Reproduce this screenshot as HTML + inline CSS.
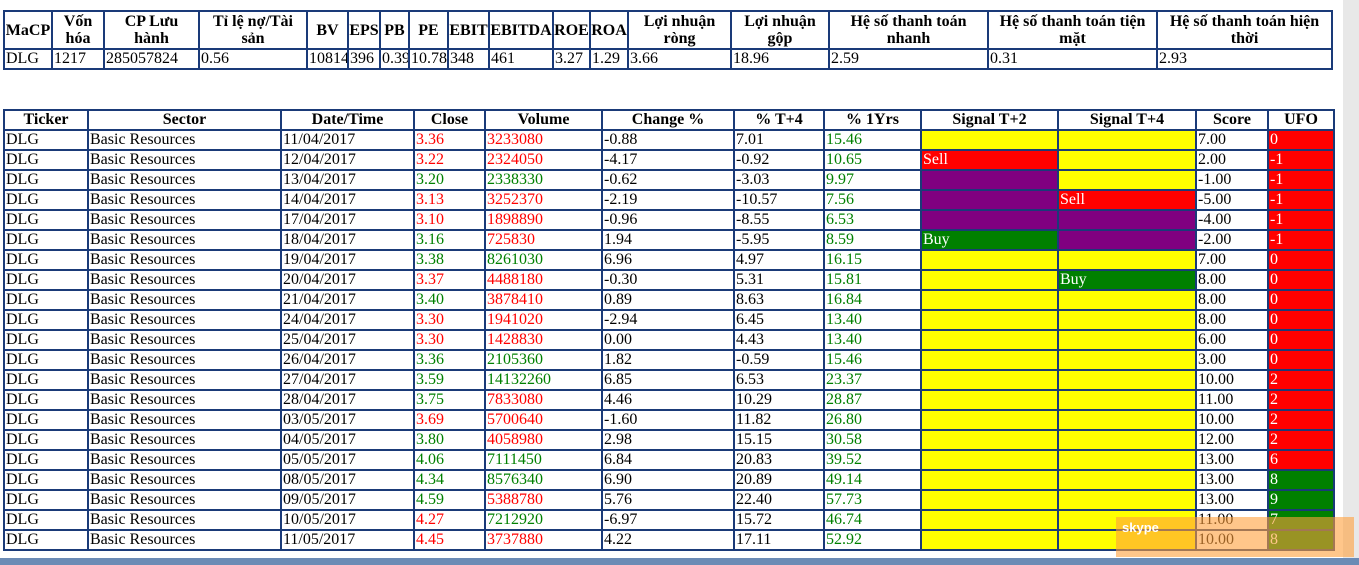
<!DOCTYPE html>
<html><head><meta charset="utf-8"><style>
body{margin:0;width:1359px;height:565px;background:#fff;overflow:hidden;position:relative;font-family:"Liberation Serif",serif;}
table{position:absolute;border-collapse:collapse;table-layout:fixed;font-size:16px;}
td,th{border:2px solid #1a3a78;padding:0 1px;white-space:nowrap;overflow:hidden;}
th{font-weight:bold;text-align:center;line-height:17px;}
#t1{left:3px;top:10px;width:1330px;}
#t1 th{height:36px;white-space:normal;padding:0 3px;}
#t1 td{height:18px;line-height:18px;}
#t2{left:3px;top:109px;width:1330px;}
#t2 th{height:18px;line-height:18px;}
#t2 td{height:18px;line-height:18px;}
.r{color:#ff0000}.g{color:#008000}
.Y{background:#ffff00}.R{background:#ff0000;color:#fff}.P{background:#800080;color:#fff}.G{background:#008000;color:#fff}
</style></head><body>
<table id="t1"><colgroup>
<col style="width:48px"><col style="width:52px"><col style="width:95px"><col style="width:108px"><col style="width:41px"><col style="width:32px"><col style="width:29px"><col style="width:39px"><col style="width:41px"><col style="width:64px"><col style="width:37px"><col style="width:38px"><col style="width:103px"><col style="width:98px"><col style="width:159px"><col style="width:169px"><col style="width:175px"></colgroup>
<tr><th style="padding:0">MaCP</th><th>Vốn hóa</th><th>CP Lưu hành</th><th>Tỉ lệ nợ/Tài sản</th><th>BV</th><th style="padding:0">EPS</th><th style="padding:0">PB</th><th>PE</th><th style="padding:0">EBIT</th><th style="padding:0">EBITDA</th><th style="padding:0">ROE</th><th style="padding:0">ROA</th><th>Lợi nhuận ròng</th><th>Lợi nhuận gộp</th><th style="padding:0 20px">Hệ số thanh toán nhanh</th><th>Hệ số thanh toán tiện mặt</th><th style="padding:0 2px">Hệ số thanh toán hiện thời</th></tr>
<tr><td>DLG</td><td>1217</td><td>285057824</td><td>0.56</td><td>10814</td><td>396</td><td>0.39</td><td>10.78</td><td>348</td><td>461</td><td>3.27</td><td>1.29</td><td>3.66</td><td>18.96</td><td>2.59</td><td>0.31</td><td>2.93</td></tr>
</table>
<table id="t2"><colgroup>
<col style="width:84px"><col style="width:193px"><col style="width:133px"><col style="width:71px"><col style="width:117px"><col style="width:132px"><col style="width:90px"><col style="width:97px"><col style="width:137px"><col style="width:138px"><col style="width:72px"><col style="width:66px"></colgroup>
<tr><th>Ticker</th><th>Sector</th><th>Date/Time</th><th>Close</th><th>Volume</th><th>Change %</th><th>% T+4</th><th>% 1Yrs</th><th>Signal T+2</th><th>Signal T+4</th><th>Score</th><th>UFO</th></tr>
<tr><td>DLG</td><td>Basic Resources</td><td>11/04/2017</td><td class="r">3.36</td><td class="r">3233080</td><td>-0.88</td><td>7.01</td><td class="g">15.46</td><td class="Y"></td><td class="Y"></td><td>7.00</td><td class="R">0</td></tr>
<tr><td>DLG</td><td>Basic Resources</td><td>12/04/2017</td><td class="r">3.22</td><td class="r">2324050</td><td>-4.17</td><td>-0.92</td><td class="g">10.65</td><td class="R">Sell</td><td class="Y"></td><td>2.00</td><td class="R">-1</td></tr>
<tr><td>DLG</td><td>Basic Resources</td><td>13/04/2017</td><td class="g">3.20</td><td class="g">2338330</td><td>-0.62</td><td>-3.03</td><td class="g">9.97</td><td class="P"></td><td class="Y"></td><td>-1.00</td><td class="R">-1</td></tr>
<tr><td>DLG</td><td>Basic Resources</td><td>14/04/2017</td><td class="r">3.13</td><td class="r">3252370</td><td>-2.19</td><td>-10.57</td><td class="g">7.56</td><td class="P"></td><td class="R">Sell</td><td>-5.00</td><td class="R">-1</td></tr>
<tr><td>DLG</td><td>Basic Resources</td><td>17/04/2017</td><td class="r">3.10</td><td class="r">1898890</td><td>-0.96</td><td>-8.55</td><td class="g">6.53</td><td class="P"></td><td class="P"></td><td>-4.00</td><td class="R">-1</td></tr>
<tr><td>DLG</td><td>Basic Resources</td><td>18/04/2017</td><td class="g">3.16</td><td class="r">725830</td><td>1.94</td><td>-5.95</td><td class="g">8.59</td><td class="G">Buy</td><td class="P"></td><td>-2.00</td><td class="R">-1</td></tr>
<tr><td>DLG</td><td>Basic Resources</td><td>19/04/2017</td><td class="g">3.38</td><td class="g">8261030</td><td>6.96</td><td>4.97</td><td class="g">16.15</td><td class="Y"></td><td class="Y"></td><td>7.00</td><td class="R">0</td></tr>
<tr><td>DLG</td><td>Basic Resources</td><td>20/04/2017</td><td class="r">3.37</td><td class="r">4488180</td><td>-0.30</td><td>5.31</td><td class="g">15.81</td><td class="Y"></td><td class="G">Buy</td><td>8.00</td><td class="R">0</td></tr>
<tr><td>DLG</td><td>Basic Resources</td><td>21/04/2017</td><td class="g">3.40</td><td class="r">3878410</td><td>0.89</td><td>8.63</td><td class="g">16.84</td><td class="Y"></td><td class="Y"></td><td>8.00</td><td class="R">0</td></tr>
<tr><td>DLG</td><td>Basic Resources</td><td>24/04/2017</td><td class="r">3.30</td><td class="r">1941020</td><td>-2.94</td><td>6.45</td><td class="g">13.40</td><td class="Y"></td><td class="Y"></td><td>8.00</td><td class="R">0</td></tr>
<tr><td>DLG</td><td>Basic Resources</td><td>25/04/2017</td><td class="r">3.30</td><td class="r">1428830</td><td>0.00</td><td>4.43</td><td class="g">13.40</td><td class="Y"></td><td class="Y"></td><td>6.00</td><td class="R">0</td></tr>
<tr><td>DLG</td><td>Basic Resources</td><td>26/04/2017</td><td class="g">3.36</td><td class="g">2105360</td><td>1.82</td><td>-0.59</td><td class="g">15.46</td><td class="Y"></td><td class="Y"></td><td>3.00</td><td class="R">0</td></tr>
<tr><td>DLG</td><td>Basic Resources</td><td>27/04/2017</td><td class="g">3.59</td><td class="g">14132260</td><td>6.85</td><td>6.53</td><td class="g">23.37</td><td class="Y"></td><td class="Y"></td><td>10.00</td><td class="R">2</td></tr>
<tr><td>DLG</td><td>Basic Resources</td><td>28/04/2017</td><td class="g">3.75</td><td class="r">7833080</td><td>4.46</td><td>10.29</td><td class="g">28.87</td><td class="Y"></td><td class="Y"></td><td>11.00</td><td class="R">2</td></tr>
<tr><td>DLG</td><td>Basic Resources</td><td>03/05/2017</td><td class="r">3.69</td><td class="r">5700640</td><td>-1.60</td><td>11.82</td><td class="g">26.80</td><td class="Y"></td><td class="Y"></td><td>10.00</td><td class="R">2</td></tr>
<tr><td>DLG</td><td>Basic Resources</td><td>04/05/2017</td><td class="g">3.80</td><td class="r">4058980</td><td>2.98</td><td>15.15</td><td class="g">30.58</td><td class="Y"></td><td class="Y"></td><td>12.00</td><td class="R">2</td></tr>
<tr><td>DLG</td><td>Basic Resources</td><td>05/05/2017</td><td class="g">4.06</td><td class="g">7111450</td><td>6.84</td><td>20.83</td><td class="g">39.52</td><td class="Y"></td><td class="Y"></td><td>13.00</td><td class="R">6</td></tr>
<tr><td>DLG</td><td>Basic Resources</td><td>08/05/2017</td><td class="g">4.34</td><td class="g">8576340</td><td>6.90</td><td>20.89</td><td class="g">49.14</td><td class="Y"></td><td class="Y"></td><td>13.00</td><td class="G">8</td></tr>
<tr><td>DLG</td><td>Basic Resources</td><td>09/05/2017</td><td class="g">4.59</td><td class="r">5388780</td><td>5.76</td><td>22.40</td><td class="g">57.73</td><td class="Y"></td><td class="Y"></td><td>13.00</td><td class="G">9</td></tr>
<tr><td>DLG</td><td>Basic Resources</td><td>10/05/2017</td><td class="r">4.27</td><td class="g">7212920</td><td>-6.97</td><td>15.72</td><td class="g">46.74</td><td class="Y"></td><td class="Y"></td><td>11.00</td><td class="G">7</td></tr>
<tr><td>DLG</td><td>Basic Resources</td><td>11/05/2017</td><td class="r">4.45</td><td class="r">3737880</td><td>4.22</td><td>17.11</td><td class="g">52.92</td><td class="Y"></td><td class="Y"></td><td>10.00</td><td class="G">8</td></tr>
</table>
<div style="position:absolute;left:1343px;top:0;width:16px;height:558px;background:#e8e8e8"></div>
<div style="position:absolute;left:1116px;top:517px;width:238px;height:40px;background:rgba(255,160,60,0.6)"></div>
<div style="position:absolute;left:1122px;top:520px;color:#fff;font:bold 13px 'Liberation Sans',sans-serif">skype</div>
<div style="position:absolute;left:0;top:558px;width:1359px;height:7px;background:#6b8bb5"></div>
</body></html>
